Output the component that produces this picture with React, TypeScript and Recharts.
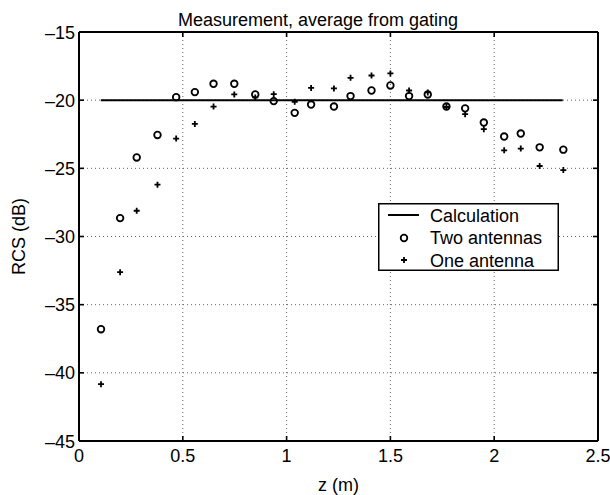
import React from 'react';
import { ComposedChart, Line, Scatter, XAxis, YAxis, CartesianGrid, Legend } from 'recharts';

const zValues = [0.106, 0.198, 0.278, 0.378, 0.468, 0.558, 0.648, 0.748, 0.849, 0.938, 1.039, 1.118, 1.228, 1.308, 1.409, 1.5, 1.59, 1.68, 1.77, 1.86, 1.95, 2.048, 2.128, 2.219, 2.333];
const twoAntennasRCS = [-36.8, -28.65, -24.2, -22.55, -19.78, -19.41, -18.8, -18.8, -19.58, -20.07, -20.93, -20.32, -20.47, -19.7, -19.29, -18.92, -19.7, -19.58, -20.47, -20.6, -21.64, -22.67, -22.45, -23.46, -23.63];
const oneAntennaRCS = [-40.83, -32.62, -28.11, -26.2, -22.82, -21.74, -20.47, -19.58, -19.8, -19.56, -20.12, -19.1, -19.14, -18.36, -18.19, -18.04, -19.29, -19.43, -20.5, -21.03, -22.13, -23.68, -23.55, -24.83, -25.13];
const calcZ = [0.105, 2.33];
const calcRCS = [-20, -20];

const xTicks = [0, 0.5, 1, 1.5, 2, 2.5];
const xTickLabels = ['0', '0.5', '1', '1.5', '2', '2.5'];
const yTicks = [-45, -40, -35, -30, -25, -20, -15];
const yTickLabels = ['\u201345', '\u201340', '\u201335', '\u201330', '\u201325', '\u201320', '\u201315'];
const seriesNames = ['Calculation', 'Two antennas', 'One antenna'];
const titleText = 'Measurement, average from gating';
const xLabelText = 'z (m)';
const yLabelText = 'RCS (dB)';

const twoData = zValues.map((z, i) => ({ z, rcs: twoAntennasRCS[i] }));
const oneData = zValues.map((z, i) => ({ z, rcs: oneAntennaRCS[i] }));
const calcData = calcZ.map((z, i) => ({ z, rcs: calcRCS[i] }));

const FONT = '"Liberation Sans", Arial, Helvetica, sans-serif';
const INK = '#000';
const FS = 18;
const TL = 5;
const AX = 2;
const TW = 1.6;

const BottomTick = (p: any) => {
  const i = xTicks.indexOf(p.payload.value);
  return (
    <g>
      <path d={`M${p.x},${p.y}V${p.y - TL}`} stroke={INK} strokeWidth={TW} fill="none" />
      <text x={p.x} y={p.y + 21} textAnchor="middle" fontSize={FS} fontFamily={FONT} fill="#000">{xTickLabels[i]}</text>
    </g>
  );
};
const TopTick = (p: any) => (
  <path d={`M${p.x},${p.y}V${p.y + TL}`} stroke={INK} strokeWidth={TW} fill="none" />
);
const LeftTick = (p: any) => {
  const i = yTicks.indexOf(p.payload.value);
  return (
    <g>
      <path d={`M${p.x},${p.y}H${p.x + TL}`} stroke={INK} strokeWidth={TW} fill="none" />
      <text x={p.x - 4} y={p.y + 6.5} textAnchor="end" fontSize={FS} fontFamily={FONT} fill="#000">{yTickLabels[i]}</text>
    </g>
  );
};
const RightTick = (p: any) => (
  <path d={`M${p.x},${p.y}H${p.x - TL}`} stroke={INK} strokeWidth={TW} fill="none" />
);

const CircleMark = (p: any) => (
  <circle cx={p.cx} cy={p.cy} r={3.3} fill="none" stroke="#000" strokeWidth={1.8} />
);
const PlusMark = (p: any) => (
  <path d={`M${p.cx - 3},${p.cy}H${p.cx + 3}M${p.cx},${p.cy - 3}V${p.cy + 3}`} stroke="#000" strokeWidth={1.8} fill="none" />
);

const LegendBox = () => (
  <svg width={181} height={68} style={{ display: 'block' }}>
    <rect x={0.75} y={0.75} width={179.5} height={66.5} fill="#fff" stroke="#000" strokeWidth={1.5} />
    <path d="M10,12H41" stroke="#000" strokeWidth={2} fill="none" />
    <circle cx={26} cy={35} r={3.3} fill="none" stroke="#000" strokeWidth={1.8} />
    <path d="M23,57H29M26,54V60" stroke="#000" strokeWidth={1.8} fill="none" />
    {seriesNames.map((n, i) => (
      <text key={n} x={52} y={12 + i * 22.5 + 6.5} fontSize={FS} fontFamily={FONT} fill="#000">{n}</text>
    ))}
  </svg>
);

const XLabel = (p: any) => {
  const vb = p.viewBox;
  return <text x={vb.x + vb.width / 2} y={vb.y + 50} textAnchor="middle" fontSize={FS} fontFamily={FONT} fill="#000">{xLabelText}</text>;
};
const YLabel = (p: any) => {
  const vb = p.viewBox;
  const cx = 25;
  const cy = vb.y + vb.height / 2;
  return <text x={cx} y={cy} transform={`rotate(-90, ${cx}, ${cy})`} textAnchor="middle" fontSize={FS} fontFamily={FONT} fill="#000">{yLabelText}</text>;
};
const TitleLabel = () => (
  <text x={318} y={26} textAnchor="middle" fontSize={FS} fontFamily={FONT} fill="#000">{titleText}</text>
);

export default function App() {
  return (
    <div style={{ position: 'absolute', left: 0, top: 0, width: 610, height: 495, background: '#fff' }}>
      <ComposedChart width={610} height={495} margin={{ top: 32, right: 12, bottom: 0, left: 0 }}>
        <CartesianGrid xAxisId={0} yAxisId={0} stroke="#666" strokeDasharray="1 3" strokeWidth={1} horizontal vertical />
        <XAxis xAxisId={0} dataKey="z" type="number" domain={[0, 2.5]} ticks={xTicks} allowDataOverflow
          height={54} tickSize={0} tickMargin={0} tickLine={false} tick={BottomTick} stroke={INK}
          axisLine={{ stroke: INK, strokeWidth: AX }} label={XLabel} interval={0} />
        <XAxis xAxisId="top" orientation="top" dataKey="z" type="number" domain={[0, 2.5]} ticks={xTicks} allowDataOverflow
          height={1} tickSize={0} tickMargin={0} tickLine={false} tick={TopTick} stroke={INK} mirror
          axisLine={{ stroke: INK, strokeWidth: AX }} label={TitleLabel} interval={0} />
        <YAxis yAxisId={0} dataKey="rcs" type="number" domain={[-45, -15]} ticks={yTicks} allowDataOverflow
          width={79} tickSize={0} tickMargin={0} tickLine={false} tick={LeftTick} stroke={INK}
          axisLine={{ stroke: INK, strokeWidth: AX }} label={YLabel} interval={0} />
        <YAxis yAxisId="right" orientation="right" dataKey="rcs" type="number" domain={[-45, -15]} ticks={yTicks} allowDataOverflow
          width={1} tickSize={0} tickMargin={0} tickLine={false} tick={RightTick} stroke={INK} mirror
          axisLine={{ stroke: INK, strokeWidth: AX }} interval={0} />
        <Line data={calcData} dataKey="rcs" name={seriesNames[0]} stroke="#000" strokeWidth={2} dot={false} isAnimationActive={false} />
        <Scatter data={twoData} dataKey="rcs" name={seriesNames[1]} shape={CircleMark} isAnimationActive={false} />
        <Scatter data={oneData} dataKey="rcs" name={seriesNames[2]} shape={PlusMark} isAnimationActive={false} />
        <Legend layout="vertical" verticalAlign="middle" align="center" content={LegendBox}
          wrapperStyle={{ position: 'absolute', left: 378, top: 203, width: 181, height: 68 }} />
      </ComposedChart>
    </div>
  );
}
